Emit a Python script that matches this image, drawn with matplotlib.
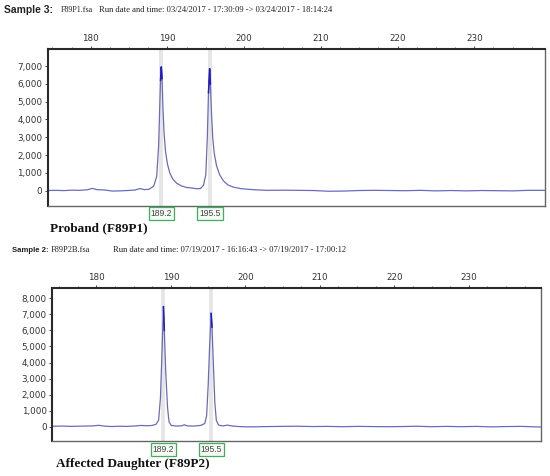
import matplotlib.pyplot as plt
import matplotlib.transforms as mtransforms
from matplotlib.ticker import FuncFormatter, MultipleLocator

# ---- data (size in bp, signal in RFU) ----
p1_size = [174.4, 175.5, 176.5, 177.5, 178.5, 179.5, 180.2, 180.8, 181.8, 182.8,
           183.8, 184.8, 185.8, 186.4, 187.0, 187.6, 188.2, 188.6, 188.85, 189.0,
           189.1, 189.2, 189.3, 189.4, 189.55, 189.75, 190.0, 190.3, 190.7, 191.2,
           191.8, 192.5, 193.2, 193.8, 194.3, 194.7, 195.0, 195.2, 195.35, 195.5,
           195.6, 195.75, 195.9, 196.1, 196.4, 196.8, 197.3, 197.9, 198.6, 199.5,
           200.5, 201.5, 203, 205, 207, 209, 211, 213, 215, 217,
           219, 221, 223, 225, 227, 229, 231, 233, 235, 237, 239.2]
p1_rfu = [10, 20, 5, 30, 20, 50, 130, 60, 40, -20,
          -10, 10, 40, 120, 60, 80, 250, 800, 2500, 4800,
          6200, 6950, 6300, 4800, 3300, 2200, 1500, 1000, 650, 420,
          270, 180, 150, 110, 120, 300, 900, 3000, 5500, 6850,
          6000, 4300, 3000, 2100, 1400, 900, 550, 320, 200, 120,
          80, 50, 20, 30, 20, 10, -30, -20, 10, 20,
          10, 0, 20, -10, 10, -10, 10, 0, -10, 20, 20]

p2_size = [174.1, 175.5, 176.5, 177.5, 178.5, 179.5, 180.3, 181, 182, 183,
           184, 185, 186, 186.8, 187.5, 188.0, 188.35, 188.6, 188.8, 189.0,
           189.12, 189.3, 189.55, 189.75, 190.05, 190.8, 191.5, 191.8, 192.2, 193,
           194, 194.55, 194.8, 195.0, 195.2, 195.4, 195.52, 195.7, 195.9, 196.1,
           196.4, 197, 197.6, 198.3, 199.5, 201, 203, 205, 207, 209,
           211, 213, 215, 217, 219, 221, 223, 225, 227, 229,
           231, 233, 235, 237, 239.65]
p2_rfu = [30, 40, 20, 30, 40, 50, 90, 40, 10, 30,
          20, 40, 80, 60, 80, 150, 400, 1800, 4500, 7480,
          6000, 3500, 1200, 300, 80, 40, 60, 120, 50, 40,
          80, 200, 700, 2500, 5000, 7060, 6200, 4000, 1500, 400,
          100, 50, 100, 40, 0, -10, 10, 20, 30, 10,
          20, 0, 20, 10, 0, 10, 30, 0, 20, 0,
          20, -10, 10, 20, -20]

p1_peaks = [189.2, 195.55]
p2_peaks = [189.0, 195.4]
peak_labels = ["189.2", "195.5"]

headers = [("Sample 3:", "F89P1.fsa",
            "Run date and time: 03/24/2017 - 17:30:09 -> 03/24/2017 - 18:14:24"),
           ("Sample 2:", "F89P2B.fsa",
            "Run date and time: 07/19/2017 - 16:16:43 -> 07/19/2017 - 17:00:12")]
captions = ["Proband (F89P1)", "Affected Daughter (F89P2)"]

W, H = 550, 476
fig = plt.figure(figsize=(W / 100, H / 100), dpi=100)
fig.patch.set_facecolor("white")


def px_axes(l, t, r, b):
    return fig.add_axes([l / W, 1 - b / H, (r - l) / W, (b - t) / H])


def draw_panel(ax, size, rfu, peaks, xlim, ylim, ymax_tick, box_y):
    for p in peaks:
        ax.axvspan(p - 0.27, p + 0.27, color="#e6e6e6", zorder=0, lw=0)
    ax.plot(size, rfu, color="#6b6bbd", lw=0.9, zorder=2)
    # overlapping steep flanks read darker near the apex
    cut = 0.75 * max(rfu)
    ax.plot(size, [v if v > cut else float("nan") for v in rfu],
            color="#1c1cc8", lw=1.1, zorder=3)
    ax.set_xlim(*xlim)
    ax.set_ylim(*ylim)
    ax.xaxis.tick_top()
    ax.xaxis.set_major_locator(MultipleLocator(10))
    ax.xaxis.set_minor_locator(MultipleLocator(2.5))
    ax.set_yticks(range(0, ymax_tick + 1, 1000))
    ax.yaxis.set_major_formatter(FuncFormatter(lambda v, _: f"{int(v):,}"))
    ax.tick_params(axis="x", which="major", labelsize=6.3, labelcolor="#333333",
                   length=2.0, width=0.7, color="#444444", pad=2.0)
    ax.tick_params(axis="x", which="minor", length=1.6, width=0.6, color="#555555")
    ax.tick_params(axis="y", labelsize=6.3, labelcolor="#333333",
                   length=2.5, width=0.7, color="#444444", pad=1.5)
    for name, sp in ax.spines.items():
        sp.set_color("#2a2a2a" if name in ("top", "left") else "#666666")
        sp.set_linewidth(1.5 if name in ("top", "left") else 1.0)
    trans = mtransforms.blended_transform_factory(ax.transData, ax.transAxes)
    for p, lab in zip(peaks, peak_labels):
        ax.text(p, box_y, lab, transform=trans, ha="center", va="center",
                fontsize=6.2, color="#444444", family="Liberation Sans",
                bbox=dict(boxstyle="square,pad=0.22", fc="#f4fbf4",
                          ec="#3fae5f", lw=0.9),
                clip_on=False)


ax1 = px_axes(47.7, 49, 545, 205.7)
draw_panel(ax1, p1_size, p1_rfu, p1_peaks, (174.39, 239.22), (-842, 7955), 7000, -0.048)

ax2 = px_axes(52.3, 287.7, 540.7, 441)
draw_panel(ax2, p2_size, p2_rfu, p2_peaks, (174.08, 239.65), (-890, 8660), 8000, -0.054)

# ---- run headers: (x of bold part, y, bold size, x of file, file size, x of run) ----
hdr_pos = [(4.0, 10, 7.4, 61, 5.8, 99), (11.7, 250, 5.6, 51, 6.0, 113)]
for (bold, fname, run), (x0, y0, bsz, xf, fsz, xr) in zip(headers, hdr_pos):
    fig.text(x0 / W, 1 - y0 / H, bold, fontsize=bsz, fontweight="bold",
             family="Liberation Sans", va="center", color="#222222")
    fig.text(xf / W, 1 - y0 / H, fname, fontsize=fsz, family="Liberation Serif",
             va="center", color="#222222")
    fig.text(xr / W, 1 - y0 / H, run, fontsize=6.2, family="Liberation Serif",
             va="center", color="#222222")

# ---- captions ----
for cap, (x0, y0) in zip(captions, [(50, 228), (56, 464.3)]):
    fig.text(x0 / W, 1 - y0 / H, cap, fontsize=9.5, fontweight="bold",
             family="Liberation Serif", va="center", color="#111111")

fig.savefig("out.png", dpi=100, facecolor="white")
